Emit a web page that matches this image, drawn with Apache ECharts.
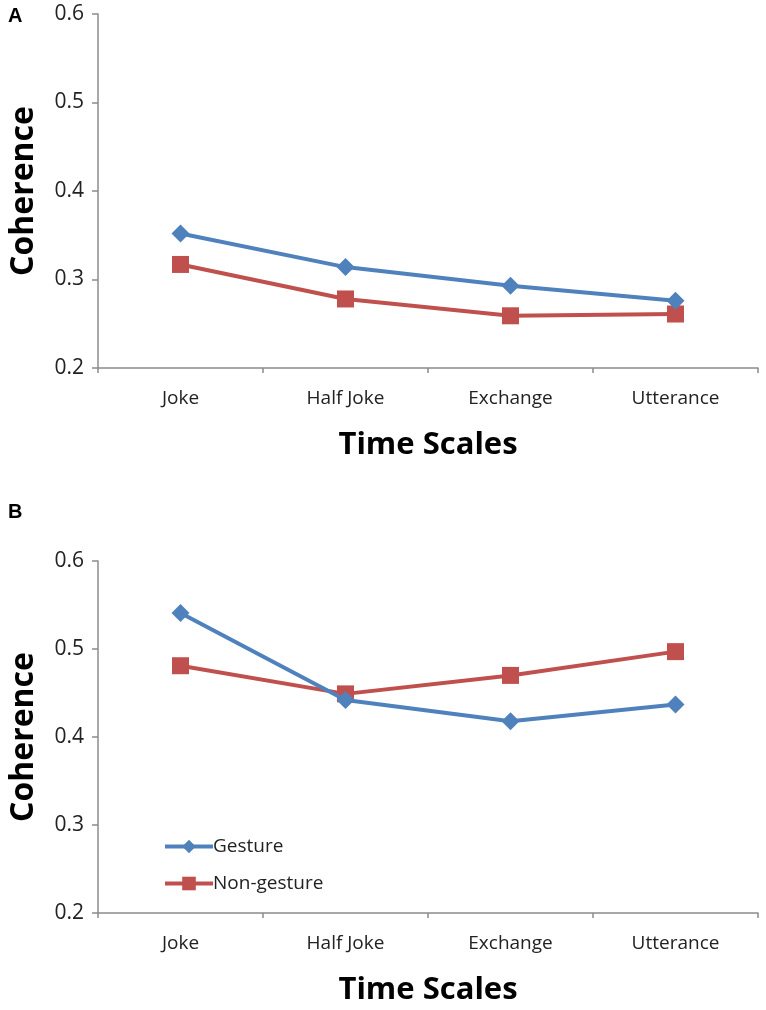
<!DOCTYPE html>
<html>
<head>
<meta charset="utf-8">
<script src="https://cdn.jsdelivr.net/npm/echarts@6/dist/echarts.min.js"></script>
<style>
html,body{margin:0;padding:0;background:#fff;}
#chart{width:766px;height:1010px;}
</style>
</head>
<body>
<div id="chart"></div>
<script>
const categories = ['Joke', 'Half Joke', 'Exchange', 'Utterance'];
const gestureA = [0.352, 0.314, 0.293, 0.276];
const nonGestureA = [0.317, 0.278, 0.259, 0.261];
const gestureB = [0.541, 0.442, 0.418, 0.437];
const nonGestureB = [0.481, 0.449, 0.470, 0.497];
const yTicks = [0.2, 0.3, 0.4, 0.5, 0.6];

const BLUE = '#4F81BD';
const RED = '#C0504D';
const FONT = '"Open Sans", "Liberation Sans", sans-serif';

const chart = echarts.init(document.getElementById('chart'), null, {renderer: 'canvas'});

function xAxis(gridIndex) {
  return {
    type: 'category', gridIndex, data: categories, boundaryGap: true,
    axisLine: {lineStyle: {color: '#8c8c8c', width: 1.5}},
    axisTick: {show: true, inside: false, length: 5, lineStyle: {color: '#8c8c8c', width: 1.5}},
    axisLabel: {color: '#222', fontSize: 19, fontFamily: FONT, margin: 21},
    name: 'Time Scales', nameLocation: 'middle', nameGap: 62,
    nameTextStyle: {color: '#000', fontSize: 31, fontWeight: 'bold', fontFamily: FONT}
  };
}
function yAxis(gridIndex) {
  return {
    type: 'value', gridIndex, min: yTicks[0], max: yTicks[yTicks.length - 1], interval: 0.1,
    axisLine: {show: true, lineStyle: {color: '#8c8c8c', width: 1.5}},
    axisTick: {show: true, inside: false, length: 6, lineStyle: {color: '#8c8c8c', width: 1.5}},
    splitLine: {show: false},
    axisLabel: {color: '#222', fontSize: 21, fontFamily: FONT, margin: 14,
      formatter: v => v.toFixed(1)},
    name: 'Coherence', nameLocation: 'middle', nameRotate: 90, nameGap: 58,
    nameTextStyle: {color: '#000', fontSize: 32, fontWeight: 'bold', fontFamily: FONT}
  };
}
function lineSeries(name, data, idx, color, symbol, size) {
  return {
    name, type: 'line', xAxisIndex: idx, yAxisIndex: idx, data,
    symbol, symbolSize: size, showSymbol: true,
    lineStyle: {color, width: 4},
    itemStyle: {color, borderWidth: 0},
    emphasis: {disabled: true}, animation: false, z: name === 'Gesture' ? 3 : 2
  };
}

chart.setOption({
  animation: false,
  backgroundColor: '#fff',
  grid: [
    {left: 98, right: 8, top: 14, height: 354},
    {left: 98, right: 8, top: 561, height: 352}
  ],
  xAxis: [xAxis(0), xAxis(1)],
  yAxis: [yAxis(0), yAxis(1)],
  legend: {
    data: ['Gesture', 'Non-gesture'], orient: 'vertical', left: 158, top: 832,
    itemWidth: 48, itemHeight: 17, itemGap: 18, selectedMode: false,
    lineStyle: {width: 4},
    textStyle: {color: '#222', fontSize: 19, fontFamily: FONT, padding: [0, 0, 0, -5]}
  },
  graphic: [
    {type: 'text', left: 8, top: 6, style: {text: 'A', font: 'bold 20px "Liberation Sans", Arial, sans-serif', fill: '#000'}},
    {type: 'text', left: 8, top: 502, style: {text: 'B', font: 'bold 20px "Liberation Sans", Arial, sans-serif', fill: '#000'}}
  ],
  series: [
    lineSeries('Gesture', gestureA, 0, BLUE, 'diamond', 18),
    lineSeries('Non-gesture', nonGestureA, 0, RED, 'rect', 17),
    lineSeries('Gesture', gestureB, 1, BLUE, 'diamond', 18),
    lineSeries('Non-gesture', nonGestureB, 1, RED, 'rect', 17)
  ]
});
</script>
</body>
</html>
